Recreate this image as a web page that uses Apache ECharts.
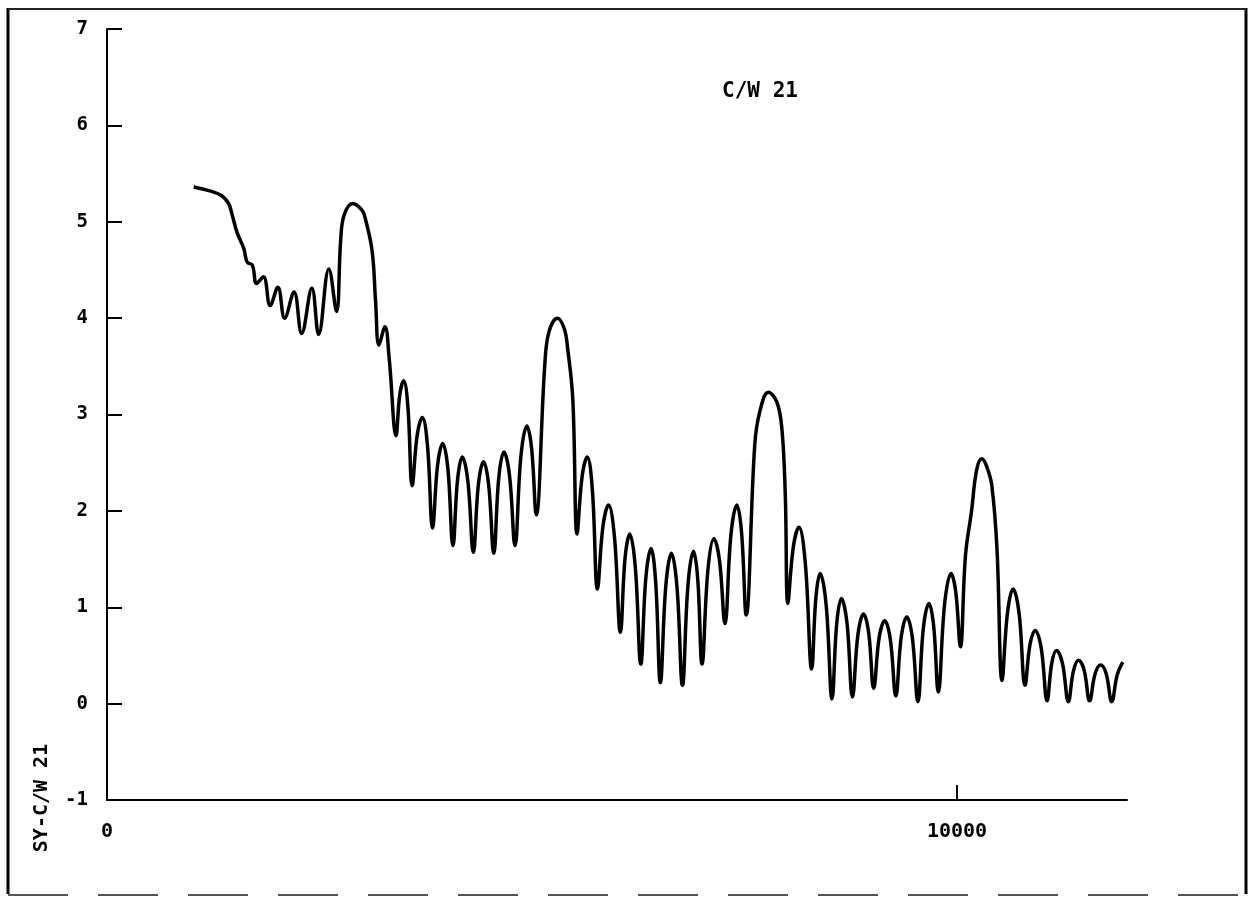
<!DOCTYPE html>
<html>
<head>
<meta charset="utf-8">
<script src="https://cdn.jsdelivr.net/npm/echarts@6/dist/echarts.min.js"></script>
<style>
  html, body { margin: 0; padding: 0; background: #fff; }
  #main { width: 1251px; height: 898px; }
</style>
</head>
<body>
<div id="main"></div>
<script>
var myChart = echarts.init(document.getElementById('main'));

// x values (troughs, shoulders and peaks of each lobe)
var xValues = [
    1020, 1210, 1350, 1430, 1470, 1530, 1610, 1650, 1710, 1760,
    1840, 1920, 2010, 2090, 2200, 2290, 2410, 2490, 2610, 2700,
    2750, 2790, 2890, 3000, 3040, 3120, 3160, 3200, 3270, 3320,
    3400, 3445, 3490, 3540, 3590, 3650, 3710, 3770, 3830, 3890,
    3950, 4010, 4070, 4125, 4180, 4245, 4310, 4370, 4430, 4490,
    4550, 4610, 4670, 4735, 4800, 4870, 4940, 4995, 5050, 5150,
    5200, 5300, 5380, 5420, 5480, 5530, 5590, 5650, 5710, 5770,
    5835, 5900, 5970, 6040, 6095, 6150, 6215, 6280, 6340, 6400,
    6455, 6510, 6575, 6640, 6705, 6770, 6835, 6900, 6950, 7000,
    7070, 7140, 7205, 7270, 7340, 7410, 7465, 7520, 7620, 7680,
    7780, 7880, 7940, 7980, 8010, 8075, 8140, 8215, 8290, 8340,
    8390, 8460, 8530, 8585, 8640, 8705, 8770, 8835, 8900, 8960,
    9020, 9085, 9150, 9215, 9280, 9345, 9410, 9475, 9540, 9605,
    9670, 9725, 9780, 9855, 9930, 9985, 10040, 10100, 10170, 10230,
    10290, 10350, 10410, 10470, 10530, 10595, 10660, 10730, 10800, 10860,
    10920, 10990, 11060, 11115, 11170, 11240, 11310, 11370, 11430, 11495,
    11560, 11625, 11690, 11755, 11820, 11885, 11950
];
var yValues = [
    5.36, 5.32, 5.27, 5.19, 5.08, 4.89, 4.72, 4.58, 4.55, 4.36,
    4.43, 4.13, 4.32, 4.00, 4.27, 3.84, 4.31, 3.83, 4.51, 4.07,
    4.82, 5.07, 5.19, 5.12, 5.03, 4.69, 4.17, 3.72, 3.91, 3.58,
    2.78, 3.21, 3.35, 3.08, 2.26, 2.79, 2.97, 2.68, 1.82, 2.48,
    2.70, 2.44, 1.64, 2.33, 2.56, 2.31, 1.57, 2.28, 2.51, 2.27,
    1.56, 2.35, 2.61, 2.37, 1.64, 2.57, 2.88, 2.65, 1.96, 3.51,
    3.86, 4.00, 3.89, 3.68, 3.16, 1.76, 2.36, 2.56, 2.22, 1.19,
    1.84, 2.06, 1.73, 0.74, 1.51, 1.76, 1.42, 0.41, 1.31, 1.61,
    1.26, 0.22, 1.23, 1.56, 1.22, 0.19, 1.23, 1.58, 1.29, 0.41,
    1.39, 1.71, 1.49, 0.83, 1.75, 2.06, 1.78, 0.92, 2.68, 3.03,
    3.23, 3.13, 2.85, 2.16, 1.04, 1.63, 1.83, 1.46, 0.36, 1.10,
    1.35, 1.03, 0.05, 0.83, 1.09, 0.84, 0.07, 0.72, 0.93, 0.74,
    0.16, 0.69, 0.86, 0.67, 0.08, 0.70, 0.90, 0.68, 0.02, 0.79,
    1.04, 0.81, 0.12, 1.04, 1.35, 1.16, 0.59, 1.54, 1.99, 2.42,
    2.54, 2.46, 2.26, 1.61, 0.24, 0.95, 1.19, 0.94, 0.19, 0.62,
    0.76, 0.58, 0.03, 0.42, 0.55, 0.42, 0.02, 0.34, 0.45, 0.35,
    0.03, 0.31, 0.40, 0.31, 0.02, 0.30, 0.43
];
var xTickLabels = [0, 10000];
var xTickMarks = [10000];
var yTicks = { min: -1, max: 7, step: 1 };
var titleText = 'C/W 21';
var yName = 'SY-C/W 21';

var seriesData = [];
for (var i = 0; i < xValues.length; i++) {
    seriesData.push([xValues[i], yValues[i]]);
}

var monoFont = '"DejaVu Sans Mono", "Liberation Mono", monospace';

option = {
    backgroundColor: '#fff',
    animation: false,
    grid: {
        left: 107,
        right: 124,
        top: 29,
        bottom: 98,
        outerBoundsMode: 'none'
    },
    xAxis: {
        type: 'value',
        min: 0,
        max: 12000,
        interval: 10000,
        splitLine: { show: false },
        axisLine: { onZero: false, lineStyle: { color: '#000', width: 2 } },
        axisTick: {
            inside: true,
            length: 15,
            customValues: xTickMarks,
            lineStyle: { color: '#000', width: 2 }
        },
        axisLabel: {
            customValues: xTickLabels,
            formatter: function (v) { return String(v); },
            margin: 22,
            color: '#000',
            fontFamily: monoFont,
            fontWeight: 'bold',
            fontSize: 20
        }
    },
    yAxis: {
        type: 'value',
        min: yTicks.min,
        max: yTicks.max,
        interval: yTicks.step,
        splitLine: { show: false },
        axisLine: { lineStyle: { color: '#000', width: 2 } },
        axisTick: {
            inside: true,
            length: 15,
            lineStyle: { color: '#000', width: 2 }
        },
        axisLabel: {
            margin: 19,
            color: '#000',
            fontFamily: monoFont,
            fontWeight: 'bold',
            fontSize: 19
        }
    },
    graphic: [
        // page frame
        { type: 'line', shape: { x1: 8, y1: 8, x2: 8, y2: 894 }, style: { stroke: '#000', lineWidth: 3 } },
        { type: 'line', shape: { x1: 1246, y1: 8, x2: 1246, y2: 894 }, style: { stroke: '#000', lineWidth: 3 } },
        { type: 'line', shape: { x1: 8, y1: 9, x2: 1246, y2: 9 }, style: { stroke: '#222', lineWidth: 2 } },
        { type: 'line', shape: { x1: 8, y1: 895, x2: 1246, y2: 895 }, style: { stroke: '#555', lineWidth: 2, lineDash: [60, 30] } },
        {
            type: 'text',
            x: 760,
            y: 92,
            style: {
                text: titleText,
                fill: '#000',
                font: 'bold 21px ' + monoFont,
                align: 'center',
                verticalAlign: 'middle'
            }
        },
        {
            type: 'text',
            x: 42,
            y: 798,
            rotation: Math.PI / 2,
            style: {
                text: yName,
                fill: '#000',
                font: 'bold 20px ' + monoFont,
                align: 'center',
                verticalAlign: 'middle'
            }
        }
    ],
    series: [
        {
            name: yName,
            type: 'line',
            data: seriesData,
            showSymbol: false,
            smooth: 0.4,
            lineStyle: { color: '#000', width: 3.5 }
        }
    ]
};

myChart.setOption(option);
</script>
</body>
</html>
